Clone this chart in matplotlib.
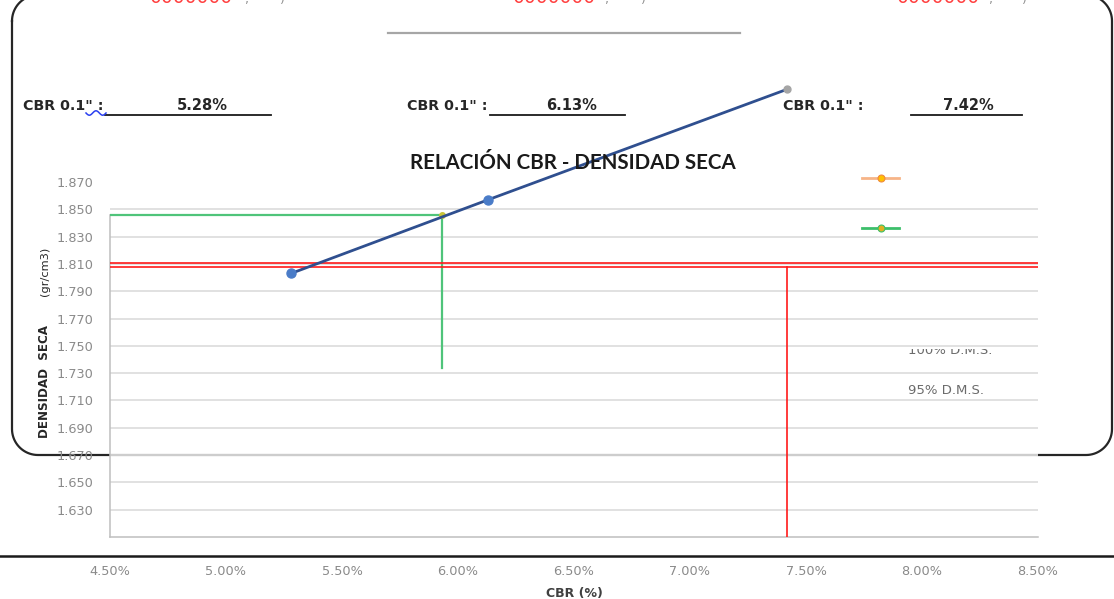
import numpy as np
import matplotlib
matplotlib.use("Agg")
import matplotlib.pyplot as plt
from matplotlib.lines import Line2D
from matplotlib.transforms import Bbox, TransformedBbox

W, H = 1114, 599

# CBR test results (CBR at 0.1" penetration vs dry density)
cbr_pct = [5.28, 6.13, 7.42]
dry_density = [1.803, 1.857, 1.938]

# Reference levels
mdd_100 = 1.846          # 100% maximum dry density
cbr_at_100 = 5.93
green_drop_to = 1.734
red_levels = [1.8105, 1.8076]
cbr_at_95 = 7.42

x_ticks = [4.5, 5.0, 5.5, 6.0, 6.5, 7.0, 7.5, 8.0, 8.5]
y_ticks = [1.63, 1.65, 1.67, 1.69, 1.71, 1.73, 1.75, 1.77, 1.79,
           1.81, 1.83, 1.85, 1.87]
header_values = ["5.28%", "6.13%", "7.42%"]

plt.rcParams['font.family'] = ['DejaVu Sans']


def fx(x):
    return np.asarray(x) / W


def fy(y):
    return 1 - np.asarray(y) / H


fig = plt.figure(figsize=(W / 100, H / 100), dpi=100)
fig.patch.set_facecolor('white')


def rounded_rect(x0, y0, x1, y1, r, n=20):
    """Outline of a rounded rectangle in pixel coordinates (y downwards)."""
    pts = []
    corners = [(x0 + r, y0 + r, 180, 270), (x1 - r, y0 + r, 270, 360),
               (x1 - r, y1 - r, 0, 90), (x0 + r, y1 - r, 90, 180)]
    for cx, cy, a0, a1 in corners:
        a = np.radians(np.linspace(a0, a1, n))
        pts.extend(zip(cx + r * np.cos(a), cy + r * np.sin(a)))
    pts.append(pts[0])
    return np.array(pts)


# rounded frame of the sheet area (behind the chart)
fr = rounded_rect(12, -5, 1112, 455, 26)
fig.add_artist(Line2D(fx(fr[:, 0]), fy(fr[:, 1]), color='#262626', lw=1.6,
                      zorder=-1))

ax = fig.add_axes([fx(110), fy(537), fx(1038) - fx(110), fy(182) - fy(537)])
ax.patch.set_facecolor('white')
ax.patch.set_alpha(0.6)
ax.set_xlim(4.5, 8.5)
ax.set_ylim(1.61, 1.87)

for s in ['top', 'right']:
    ax.spines[s].set_visible(False)
for s in ['left', 'bottom']:
    ax.spines[s].set_color('#bfbfbf')
    ax.spines[s].set_linewidth(1.1)
ax.spines['left'].set_bounds(1.61, mdd_100)

for yv in y_ticks:
    if yv < 1.86:
        ax.axhline(yv, color='#d9d9d9', lw=1.1, zorder=1)

ax.set_xticks(x_ticks)
ax.set_xticklabels([f"{v:.2f}%" for v in x_ticks])
ax.set_yticks(y_ticks)
ax.set_yticklabels([f"{v:.3f}" for v in y_ticks])
ax.tick_params(axis='x', length=0, pad=20, labelsize=9.3, labelcolor='#8a8a8a')
ax.tick_params(axis='y', length=0, pad=12, labelsize=9.3, labelcolor='#8a8a8a')

# 100% MDD guide (green)
ax.plot([4.5, cbr_at_100], [mdd_100, mdd_100], color='#4fc47a', lw=1.6, zorder=3)
ax.plot([cbr_at_100, cbr_at_100], [mdd_100, green_drop_to], color='#4fc47a',
        lw=1.6, zorder=3)
ax.plot([cbr_at_100], [mdd_100], 'o', ms=4, color='#c9c43a', zorder=4)

# 95% MDD guide (red)
for lv in red_levels:
    ax.plot([4.5, 8.5], [lv, lv], color='#ff1a1a', lw=1.2, zorder=3)
ax.plot([cbr_at_95, cbr_at_95], [red_levels[1], 1.61], color='#ff1a1a',
        lw=1.2, zorder=3)

# CBR vs dry density curve
ax.plot(cbr_pct, dry_density, color='#2f4f8f', lw=2.0, zorder=5, clip_on=False)
ax.plot(cbr_pct[:2], dry_density[:2], 'o', ms=6.5, color='#4a7cc8',
        zorder=6, clip_on=False)
ax.plot(cbr_pct[2:], dry_density[2:], 'o', ms=5, color='#a5a5a5',
        zorder=6, clip_on=False)

ax.set_xlabel("CBR (%)", fontsize=9, fontweight='bold', color='#404040',
              labelpad=7)

# y axis title
fig.text(fx(45), fy(381), "DENSIDAD  SECA", rotation=90, fontsize=8.6,
         fontweight='bold', color='#262626', ha='center', va='center')
fig.text(fx(45), fy(271), "(gr/cm3)", rotation=90, fontsize=8.2,
         color='#262626', ha='center', va='center')

# chart title
fig.text(fx(573), fy(163), "RELACIÓN CBR - DENSIDAD SECA", fontsize=14.8,
         fontweight='bold', color='#1a1a1a', ha='center', va='center',
         family=['Lato', 'DejaVu Sans'])

# legend swatches
fig.add_artist(Line2D([fx(862), fx(899)], [fy(178), fy(178)], color='#f7b487',
                      lw=2.0))
fig.add_artist(Line2D([fx(880.5)], [fy(178)], marker='o', ms=5,
                      color='#ffc000', mec='#f08a3c', mew=0.8))
fig.add_artist(Line2D([fx(862), fx(899)], [fy(228), fy(228)], color='#3cbf6a',
                      lw=2.0))
fig.add_artist(Line2D([fx(880.5)], [fy(228)], marker='o', ms=5,
                      color='#e0b020', mec='#3cbf6a', mew=0.8))

t100 = fig.text(fx(908), fy(350), "100% D.M.S.", fontsize=9.5, color='#6b6b6b',
                ha='left', va='center')
t100.set_clip_box(TransformedBbox(Bbox([[0, 0], [1, fy(349)]]), fig.transFigure))
t100.set_clip_on(True)
fig.text(fx(908), fy(391), "95% D.M.S.", fontsize=9.5, color='#6b6b6b',
         ha='left', va='center')

# CBR header fields
label_x = [23, 407, 783]
value_x = [202, 572, 968]
line_span = [(105, 271), (490, 625), (911, 1022)]
for lx, vx, (l0, l1), val in zip(label_x, value_x, line_span, header_values):
    fig.text(fx(lx), fy(106), 'CBR 0.1" :', fontsize=10.3, fontweight='bold',
             color='#262626', ha='left', va='center')
    fig.text(fx(vx), fy(106), val, fontsize=10.5, fontweight='bold',
             color='#262626', ha='center', va='center')
    fig.add_artist(Line2D([fx(l0), fx(l1)], [fy(114.5), fy(114.5)],
                          color='#1a1a1a', lw=1.3))

# spell-check squiggle
sx = np.linspace(86, 106, 40)
sy = 113 + 2.2 * np.sin((sx - 86) / 20 * 2 * np.pi * 1.5)
fig.add_artist(Line2D(fx(sx), fy(sy), color='#2a3ff0', lw=1.1))

# header row running off the top edge
for rx, gx in [(150, (247, 282)), (513, (607, 643)), (897, (991, 1024))]:
    fig.text(fx(rx), fy(3), "0000000", fontsize=13.5, color='#ff4040',
             ha='left', va='baseline')
    fig.text(fx(gx[0]), fy(3), ",", fontsize=9, color='#909090',
             ha='center', va='baseline')
    fig.text(fx(gx[1]), fy(3), ")", fontsize=9, color='#909090',
             ha='center', va='baseline')

# separator lines
fig.add_artist(Line2D([fx(388), fx(740)], [fy(33), fy(33)], color='#a6a6a6',
                      lw=1.6))
fig.add_artist(Line2D([0, 1], [fy(555.5), fy(555.5)], color='#1a1a1a', lw=1.8))

fig.savefig("out.png", dpi=100, facecolor='white')
